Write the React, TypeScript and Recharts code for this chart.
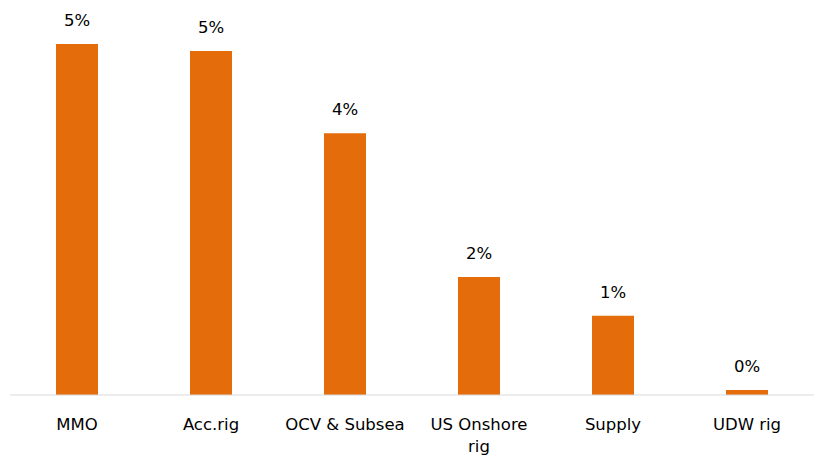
import { BarChart, Bar, XAxis, YAxis, LabelList } from 'recharts'

const categories = ['MMO', 'Acc.rig', 'OCV & Subsea', 'US Onshore rig', 'Supply', 'UDW rig']
const growth = [5.0, 4.9, 3.73, 1.68, 1.13, 0.07]

const data = categories.map((name, i) => ({ name, value: growth[i] }))

const FONT = '"DejaVu Sans", sans-serif'

// long names go onto two lines, split at the last space
function splitLabel(s: string) {
  if (s.length <= 12) return [s]
  const i = s.lastIndexOf(' ')
  return [s.slice(0, i), s.slice(i + 1)]
}

function CategoryTick(props: any) {
  const { x, y, payload } = props
  const lines = splitLabel(payload.value)
  return (
    <text x={x} y={y + 15} textAnchor="middle" dominantBaseline="hanging" style={{ fontFamily: FONT, fontSize: 16.5, fill: '#000' }}>
      {lines.map((l, i) => (
        <tspan key={i} x={x} dy={i === 0 ? 0 : 22}>
          {l}
        </tspan>
      ))}
    </text>
  )
}

export default function App() {
  return (
    <div style={{ position: 'absolute', left: 0, top: 0, background: '#fff' }}>
      <BarChart width={822} height={459} data={data} margin={{ top: 44, right: 8, bottom: 0, left: 10 }} barSize={42}>
        <XAxis
          dataKey="name"
          height={64}
          interval={0}
          axisLine={{ stroke: '#d9d9d9' }}
          tickLine={false}
          tick={<CategoryTick />}
        />
        <YAxis hide domain={[0, 5]} />
        <Bar dataKey="value" fill="#e46c0a" isAnimationActive={false}>
          <LabelList
            dataKey="value"
            position="top"
            offset={18}
            formatter={(v: any) => `${Math.round(v)}%`}
            style={{ fontFamily: FONT, fontSize: 16.5, fill: '#000' }}
          />
        </Bar>
      </BarChart>
    </div>
  )
}
